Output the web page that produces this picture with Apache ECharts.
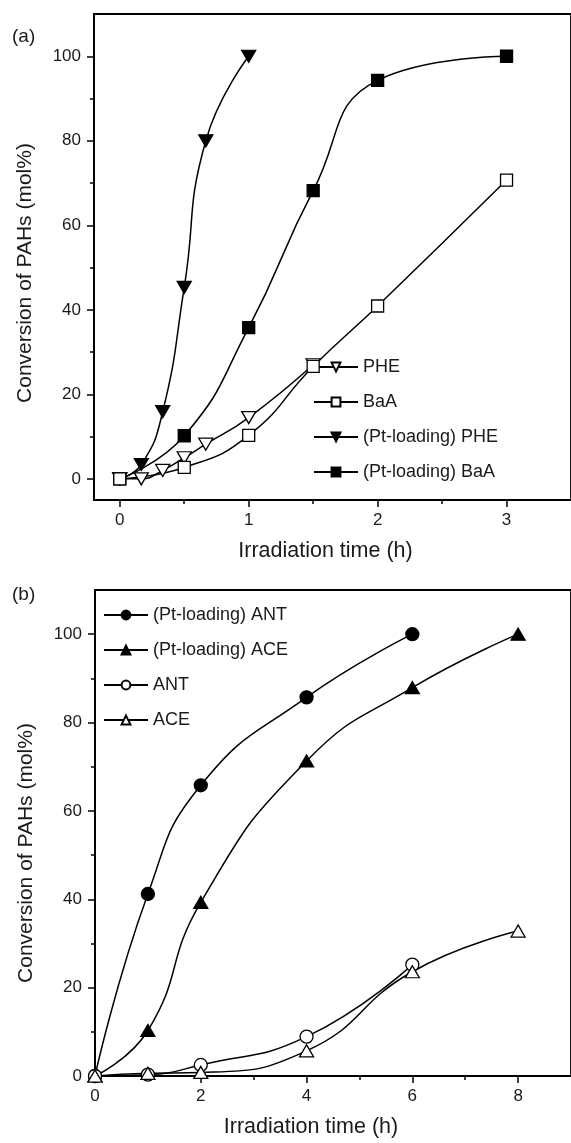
<!DOCTYPE html>
<html>
<head>
<meta charset="utf-8">
<title>Conversion of PAHs</title>
<script src="https://cdn.jsdelivr.net/npm/echarts@6.0.0/dist/echarts.min.js"></script>
<style>
	html,body{margin:0;padding:0;background:#fff;}
	#main{width:571px;height:1143px;}
</style>
</head>
<body>
<div id="main"></div>
<script>
/* (a) 数据 */
var pheTime = [0, 0.167, 0.333, 0.5, 0.667, 1, 1.5];
var pheConv = [0, 0, 2, 5, 8.2, 14.5, 27];
var baaTime = [0, 0.5, 1, 1.5, 2, 3];
var baaConv = [0, 2.7, 10.3, 26.6, 40.9, 70.7];
var ptPheTime = [0, 0.167, 0.333, 0.5, 0.667, 1];
var ptPheConv = [0, 3.4, 15.9, 45.3, 80, 100];
var ptBaaTime = [0, 0.5, 1, 1.5, 2, 3];
var ptBaaConv = [0, 10.2, 35.8, 68.2, 94.3, 100];

/* (b) 数据 */
var ptAntTime = [0, 1, 2, 4, 6];
var ptAntConv = [0, 41.2, 65.8, 85.7, 100];
var ptAceTime = [0, 1, 2, 4, 6, 8];
var ptAceConv = [0, 10.3, 39.3, 71.3, 87.9, 100];
var antTime = [0, 1, 2, 4, 6];
var antConv = [0, 0.3, 2.5, 8.9, 25.2];
var aceTime = [0, 1, 2, 4, 6, 8];
var aceConv = [0, 0.6, 0.8, 5.7, 23.6, 32.8];

/* 刻度 */
var aTicksX = [0, 1, 2, 3];
var aMinorX = [0.5, 1.5, 2.5];
var bTicksX = [0, 2, 4, 6, 8];
var bMinorX = [1, 3, 5, 7];
var ticksY = [0, 20, 40, 60, 80, 100];
var minorY = [10, 30, 50, 70, 90];

var FONT = 'Liberation Sans, Arial, sans-serif';
var INK = '#1a1a1a';

function pairs(xs, ys){
	var out = [];
	for (var i = 0; i < xs.length; i++) {
		out.push([xs[i], ys[i]]);
	}
	return out;
}

function mainX(idx, min, max, ticks, namePad){
	return {
		type: 'value', gridIndex: idx, min: min, max: max,
		name: 'Irradiation time (h)',
		nameLocation: 'middle',
		nameGap: 40,
		nameTextStyle: {color: INK, fontSize: 21.5, fontFamily: FONT, padding: namePad},
		axisLine: {show: true, onZero: false, lineStyle: {color: '#000', width: 1.8}},
		axisTick: {show: true, inside: false, length: 7, customValues: ticks, lineStyle: {color: '#000', width: 1.5}},
		axisLabel: {color: INK, fontSize: 17, fontFamily: FONT, margin: 12, customValues: ticks},
		splitLine: {show: false}
	};
}

function mainY(idx, min, max, namePad){
	return {
		type: 'value', gridIndex: idx, min: min, max: max,
		name: 'Conversion of PAHs (mol%)',
		nameLocation: 'middle',
		nameGap: 58,
		nameTextStyle: {color: INK, fontSize: 21, fontFamily: FONT, padding: namePad},
		axisLine: {show: true, onZero: false, lineStyle: {color: '#000', width: 1.8}},
		axisTick: {show: true, inside: false, length: 7, customValues: ticksY, lineStyle: {color: '#000', width: 1.5}},
		axisLabel: {color: INK, fontSize: 17, fontFamily: FONT, margin: 13, customValues: ticksY},
		splitLine: {show: false}
	};
}

// 次刻度只画短线
function minorAxis(idx, min, max, vals){
	return {
		type: 'value', gridIndex: idx, min: min, max: max,
		axisLine: {show: false, onZero: false},
		axisTick: {show: true, inside: false, length: 4, customValues: vals, lineStyle: {color: '#000', width: 1.5}},
		axisLabel: {show: false},
		splitLine: {show: false}
	};
}

function lineSeries(name, xi, yi, data, symbol, size, filled, rotate){
	return {
		name: name,
		type: 'line',
		xAxisIndex: xi,
		yAxisIndex: yi,
		data: data,
		smooth: 0.5,
		symbol: symbol,
		symbolSize: size,
		symbolRotate: rotate || 0,
		showSymbol: true,
		showAllSymbol: true,
		lineStyle: {color: '#000', width: 1.5},
		itemStyle: {
			color: filled ? '#000' : '#fff',
			borderColor: '#000',
			borderWidth: 1.3
		},
		emphasis: {disabled: true},
		z: filled ? 3 : 4
	};
}

function legendOf(left, top, names){
	return {
		orient: 'vertical',
		left: left,
		top: top,
		padding: 0,
		itemWidth: 44,
		itemHeight: 11,
		itemGap: 15,
		selectedMode: false,
		textStyle: {color: INK, fontSize: 18, fontFamily: FONT, lineHeight: 20},
		data: names
	};
}

function initPahChart(domId){
	var myChart = echarts.init(document.getElementById(domId), null, {renderer: 'canvas'});
	var gridA = {left: 94, right: -9, top: 14, bottom: 643, show: true, borderColor: '#000', borderWidth: 1.8, backgroundColor: 'transparent'};
	var gridB = {left: 95, right: -9, top: 590, bottom: 67, show: true, borderColor: '#000', borderWidth: 1.8, backgroundColor: 'transparent'};
	var option = {
		animation: false,
		backgroundColor: '#fff',
		textStyle: {fontFamily: FONT},
		title: [
			{text: '(a)', left: 12, top: 27, padding: 0, textStyle: {color: INK, fontSize: 19, fontWeight: 'normal', fontFamily: FONT}},
			{text: '(b)', left: 12, top: 585, padding: 0, textStyle: {color: INK, fontSize: 19, fontWeight: 'normal', fontFamily: FONT}}
		],
		grid: [
			gridA,
			{left: 94, right: -9, top: 14, bottom: 643},
			gridB,
			{left: 95, right: -9, top: 590, bottom: 67}
		],
		xAxis: [
			mainX(0, -0.2, 3.5, aTicksX, [0, 14, 0, 0]),
			minorAxis(1, -0.2, 3.5, aMinorX),
			mainX(2, 0, 9, bTicksX, [0, 44, 0, 0]),
			minorAxis(3, 0, 9, bMinorX)
		],
		yAxis: [
			mainY(0, -5, 110, [0, 32, 0, 0]),
			minorAxis(1, -5, 110, minorY),
			mainY(2, 0, 110, [0, 40, 0, 0]),
			minorAxis(3, 0, 110, minorY)
		],
		legend: [
			legendOf(313, 357, ['PHE', 'BaA', '(Pt-loading) PHE', '(Pt-loading) BaA']),
			legendOf(103, 605, ['(Pt-loading) ANT', '(Pt-loading) ACE', 'ANT', 'ACE'])
		],
		series: [
			lineSeries('PHE', 0, 0, pairs(pheTime, pheConv), 'triangle', [14, 12], false, 180),
			lineSeries('BaA', 0, 0, pairs(baaTime, baaConv), 'rect', 12, false),
			lineSeries('(Pt-loading) PHE', 0, 0, pairs(ptPheTime, ptPheConv), 'triangle', [14, 12], true, 180),
			lineSeries('(Pt-loading) BaA', 0, 0, pairs(ptBaaTime, ptBaaConv), 'rect', 12, true),
			lineSeries('(Pt-loading) ANT', 2, 2, pairs(ptAntTime, ptAntConv), 'circle', 13, true),
			lineSeries('(Pt-loading) ACE', 2, 2, pairs(ptAceTime, ptAceConv), 'triangle', [14, 12], true),
			lineSeries('ANT', 2, 2, pairs(antTime, antConv), 'circle', 13, false),
			lineSeries('ACE', 2, 2, pairs(aceTime, aceConv), 'triangle', [14, 12], false)
		]
	};
	myChart.setOption(option);
}

initPahChart('main');
</script>
</body>
</html>
